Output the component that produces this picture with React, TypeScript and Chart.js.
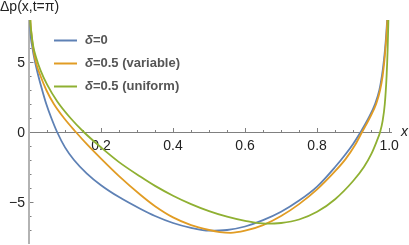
import { useEffect, useRef } from 'react';
import { Chart, registerables } from 'chart.js';

Chart.register(...registerables);

// ---- data ----
const seriesNames = ['δ=0', 'δ=0.5 (variable)', 'δ=0.5 (uniform)'];
const seriesColors = ['#5E81B5', '#E19C24', '#8FB032'];

const blueX = [0.001, 0.004, 0.009, 0.016, 0.026, 0.036, 0.048, 0.062, 0.078, 0.1, 0.125, 0.16, 0.2, 0.25, 0.31, 0.35, 0.4, 0.45, 0.5, 0.55, 0.6, 0.65, 0.7, 0.75, 0.8, 0.85, 0.88, 0.9, 0.921, 0.943, 0.961, 0.973, 0.98, 0.985, 0.989, 0.992, 0.9945, 0.998];
const blueY = [9.5, 7.2, 6.1, 5.1, 4.0, 3.05, 2.0, 1.0, 0, -1.1, -2.0, -2.95, -3.8, -4.65, -5.5, -6.0, -6.5, -6.85, -7.05, -7.0, -6.75, -6.3, -5.7, -4.9, -3.9, -2.5, -1.55, -0.85, 0, 1.0, 2.0, 3.0, 4.0, 5.0, 6.0, 7.0, 8.0, 10];

const orangeX = [0.001, 0.004, 0.007, 0.012, 0.02, 0.032, 0.048, 0.069, 0.097, 0.13, 0.16, 0.2, 0.25, 0.31, 0.35, 0.4, 0.45, 0.5, 0.53, 0.56, 0.6, 0.65, 0.7, 0.75, 0.8, 0.85, 0.88, 0.905, 0.925, 0.946, 0.964, 0.975, 0.982, 0.9865, 0.99, 0.993, 0.995, 0.9985];
const orangeY = [10, 7.9, 7.0, 5.9, 4.9, 4.0, 3.0, 2.0, 1.0, 0, -0.85, -1.9, -3.15, -4.5, -5.3, -6.1, -6.65, -7.0, -7.15, -7.2, -7.05, -6.65, -6.0, -5.15, -4.1, -2.8, -1.9, -0.95, 0, 1.0, 2.0, 3.0, 4.0, 5.0, 6.0, 7.0, 8.0, 10];

const greenX = [0.001, 0.004, 0.007, 0.012, 0.02, 0.032, 0.05, 0.078, 0.115, 0.152, 0.2, 0.25, 0.31, 0.35, 0.4, 0.45, 0.5, 0.55, 0.6, 0.657, 0.7, 0.75, 0.8, 0.85, 0.9, 0.93, 0.95, 0.965, 0.975, 0.982, 0.988, 0.993, 0.996, 0.998, 0.9998];
const greenY = [10, 7.8, 7.0, 6.1, 5.3, 4.4, 3.4, 2.2, 1.0, 0, -1.1, -2.15, -3.2, -3.85, -4.55, -5.15, -5.65, -6.05, -6.35, -6.55, -6.5, -6.25, -5.7, -4.8, -3.5, -2.5, -1.6, -0.7, 0, 0.8, 2.0, 4.0, 6.0, 8.0, 10];

const xTickValues = [0.2, 0.4, 0.6, 0.8, 1.0];
const xTickLabels = ['0.2', '0.4', '0.6', '0.8', '1.0'];
const yTickValues = [-5, 0, 5];
const yTickLabels = ['\u22125', '0', '5'];
const xMinorStep = 0.05;
const yMinorStep = 1;

const yTitle = 'Δp(x,t=π)';
const xTitle = 'x';

const FONT = '"Liberation Sans", Arial, sans-serif';

const mmaAxes = {
  id: 'mmaAxes',
  beforeDatasetsDraw(chart: any) {
    const { ctx, chartArea } = chart;
    const xs = chart.scales.x;
    const ys = chart.scales.y;
    const y0 = Math.round(ys.getPixelForValue(0)) + 0.5;
    const x0 = xs.getPixelForValue(0);
    ctx.save();
    // x axis
    ctx.strokeStyle = '#808080';
    ctx.lineWidth = 1;
    ctx.beginPath();
    ctx.moveTo(x0, y0);
    ctx.lineTo(chartArea.right, y0);
    ctx.stroke();
    // x ticks (upward)
    for (let k = 1; k * xMinorStep <= xs.max + 1e-9; k++) {
      const v = k * xMinorStep;
      const major = xTickValues.some((t) => Math.abs(t - v) < 1e-6);
      const px = Math.round(xs.getPixelForValue(v)) + 0.5;
      ctx.beginPath();
      ctx.moveTo(px, y0);
      ctx.lineTo(px, y0 - (major ? 4.5 : 2.5));
      ctx.stroke();
    }
    // y ticks (rightward)
    for (let v = ys.min + yMinorStep; v < ys.max; v += yMinorStep) {
      if (Math.abs(v) < 1e-9) continue;
      const major = yTickValues.includes(v);
      const py = Math.round(ys.getPixelForValue(v)) + 0.5;
      ctx.beginPath();
      ctx.moveTo(x0, py);
      ctx.lineTo(x0 + (major ? 4.5 : 2.5), py);
      ctx.stroke();
    }
    // y axis
    ctx.strokeStyle = '#b3b3b3';
    ctx.lineWidth = 2;
    ctx.beginPath();
    ctx.moveTo(x0, chartArea.top);
    ctx.lineTo(x0, chartArea.bottom);
    ctx.stroke();
    // tick labels
    ctx.fillStyle = '#222';
    ctx.font = `14px ${FONT}`;
    ctx.textBaseline = 'alphabetic';
    ctx.textAlign = 'center';
    xTickValues.forEach((v, i) => {
      ctx.fillText(xTickLabels[i], xs.getPixelForValue(v), y0 + 17);
    });
    ctx.textAlign = 'right';
    yTickValues.forEach((v, i) => {
      ctx.fillText(yTickLabels[i], x0 - 4, ys.getPixelForValue(v) + 5);
    });
    ctx.restore();
  },
  afterDraw(chart: any) {
    const { ctx } = chart;
    const ys = chart.scales.y;
    const xs = chart.scales.x;
    ctx.save();
    // titles
    ctx.fillStyle = '#222';
    ctx.textBaseline = 'alphabetic';
    ctx.textAlign = 'left';
    ctx.font = `14px ${FONT}`;
    ctx.fillText(yTitle, 0, 11);
    ctx.font = `italic 14px ${FONT}`;
    ctx.fillText(xTitle, xs.right + 9, ys.getPixelForValue(0) + 4);
    // legend
    seriesNames.forEach((name, i) => {
      const ly = 40.5 + i * 23;
      ctx.strokeStyle = seriesColors[i];
      ctx.lineWidth = 2;
      ctx.beginPath();
      ctx.moveTo(54, ly);
      ctx.lineTo(77, ly);
      ctx.stroke();
      ctx.fillStyle = '#555';
      ctx.textBaseline = 'middle';
      ctx.font = `italic bold 13px ${FONT}`;
      const first = name.charAt(0);
      ctx.fillText(first, 85, ly);
      const w = ctx.measureText(first).width;
      ctx.font = `bold 13px ${FONT}`;
      ctx.fillText(name.slice(1), 85 + w, ly);
    });
    ctx.restore();
  },
};

export default function App() {
  const ref = useRef<HTMLCanvasElement>(null);
  useEffect(() => {
    if (!ref.current) return;
    const mk = (xsArr: number[], ysArr: number[]) => xsArr.map((x, i) => ({ x, y: ysArr[i] }));
    const chart = new Chart(ref.current, {
      type: 'line',
      data: {
        datasets: [
          { label: seriesNames[0], data: mk(blueX, blueY), borderColor: seriesColors[0], order: 3 },
          { label: seriesNames[1], data: mk(orangeX, orangeY), borderColor: seriesColors[1], order: 2 },
          { label: seriesNames[2], data: mk(greenX, greenY), borderColor: seriesColors[2], order: 1 },
        ],
      },
      options: {
        animation: false,
        responsive: true,
        maintainAspectRatio: false,
        layout: { padding: { left: 29, right: 17, top: 20, bottom: 1 } },
        elements: {
          point: { radius: 0 },
          line: { borderWidth: 1.8, cubicInterpolationMode: 'monotone', fill: false },
        },
        plugins: { legend: { display: false }, tooltip: { enabled: false } },
        scales: {
          x: { type: 'linear', min: 0, max: 1.008, display: false },
          y: { type: 'linear', min: -8, max: 8, display: false },
        },
      },
      plugins: [mmaAxes],
    });
    return () => chart.destroy();
  }, []);
  return (
    <div style={{ position: 'absolute', left: 0, top: 0, width: 409, height: 245, background: '#fff' }}>
      <canvas ref={ref} />
    </div>
  );
}
